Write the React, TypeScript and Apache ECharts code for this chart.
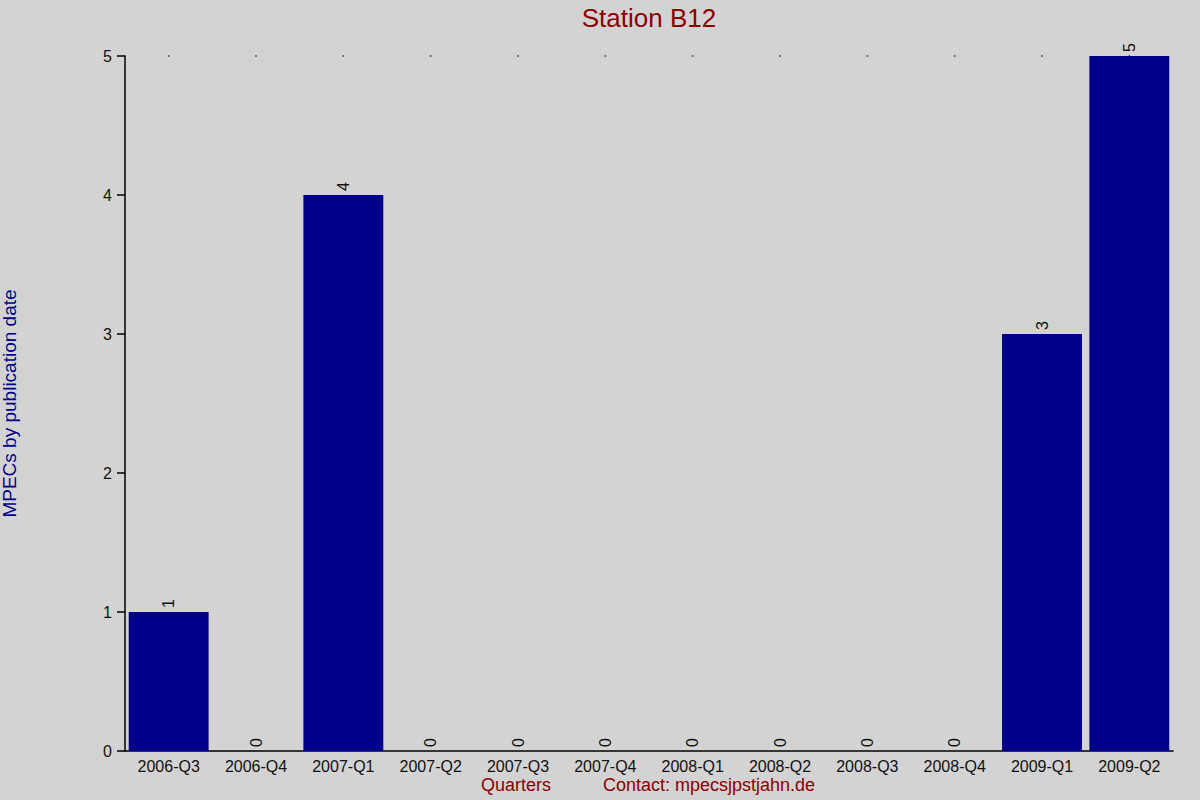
import React, { useEffect, useRef } from "react";
import * as echarts from "echarts";

const categories = [
  "2006-Q3", "2006-Q4", "2007-Q1", "2007-Q2", "2007-Q3", "2007-Q4",
  "2008-Q1", "2008-Q2", "2008-Q3", "2008-Q4", "2009-Q1", "2009-Q2",
];
const mpecCounts = [1, 0, 4, 0, 0, 0, 0, 0, 0, 0, 3, 5];
const topDots = [5, 5, 5, 5, 5, 5, 5, 5, 5, 5, 5, 5];
const yTicks = [0, 1, 2, 3, 4, 5];

const FONT = "'Liberation Sans', Arial, sans-serif";

export default function App() {
  const ref = useRef<HTMLDivElement>(null);
  useEffect(() => {
    if (!ref.current) return;
    const chart = echarts.init(ref.current, null, { renderer: "svg" });
    chart.setOption({
      animation: false,
      backgroundColor: "#D3D3D3",
      textStyle: { fontFamily: FONT },
      grid: { left: 125, right: 27, top: 56, bottom: 49, outerBoundsMode: "none" },
      xAxis: {
        type: "category",
        data: categories,
        axisLine: { lineStyle: { color: "#000", width: 1.5 } },
        axisTick: { show: false },
        axisLabel: { color: "#111", fontSize: 16, margin: 7, fontFamily: FONT },
      },
      yAxis: {
        type: "value",
        min: 0,
        max: yTicks[yTicks.length - 1],
        interval: 1,
        name: "MPECs by publication date",
        nameLocation: "middle",
        nameGap: 106,
        nameTextStyle: { color: "#00008B", fontSize: 19, fontFamily: FONT },
        axisLine: { show: true, lineStyle: { color: "#000", width: 1.5 } },
        axisTick: { show: true, length: 8, lineStyle: { color: "#000", width: 1.5 } },
        axisLabel: { color: "#111", fontSize: 16, margin: 13, fontFamily: FONT },
        splitLine: { show: false },
      },
      series: [
        {
          type: "scatter",
          data: topDots,
          symbol: "rect",
          symbolSize: 1.5,
          itemStyle: { color: "#000" },
          z: 1,
          silent: true,
        },
        {
          type: "bar",
          data: mpecCounts,
          barCategoryGap: "8.5%",
          itemStyle: { color: "#00008B" },
          z: 2,
          label: {
            show: true,
            position: "top",
            rotate: 90,
            align: "left",
            verticalAlign: "middle",
            distance: 4,
            color: "#111",
            fontSize: 16,
            fontFamily: FONT,
          },
        },
      ],
      graphic: [
        {
          type: "text",
          x: 649,
          y: 5,
          style: {
            text: "Station B12",
            fill: "#8B0000",
            fontSize: 26,
            fontFamily: FONT,
            align: "center",
            verticalAlign: "top",
          },
        },
        {
          type: "text",
          left: 481,
          top: 776,
          style: { text: "Quarters", fill: "#8B0000", fontSize: 18, fontFamily: FONT },
        },
        {
          type: "text",
          left: 603,
          top: 776,
          style: { text: "Contact: mpecsjpstjahn.de", fill: "#8B0000", fontSize: 18, fontFamily: FONT },
        },
      ],
    });
    return () => chart.dispose();
  }, []);
  return <div ref={ref} style={{ width: 1200, height: 800, position: "absolute", left: 0, top: 0 }} />;
}
